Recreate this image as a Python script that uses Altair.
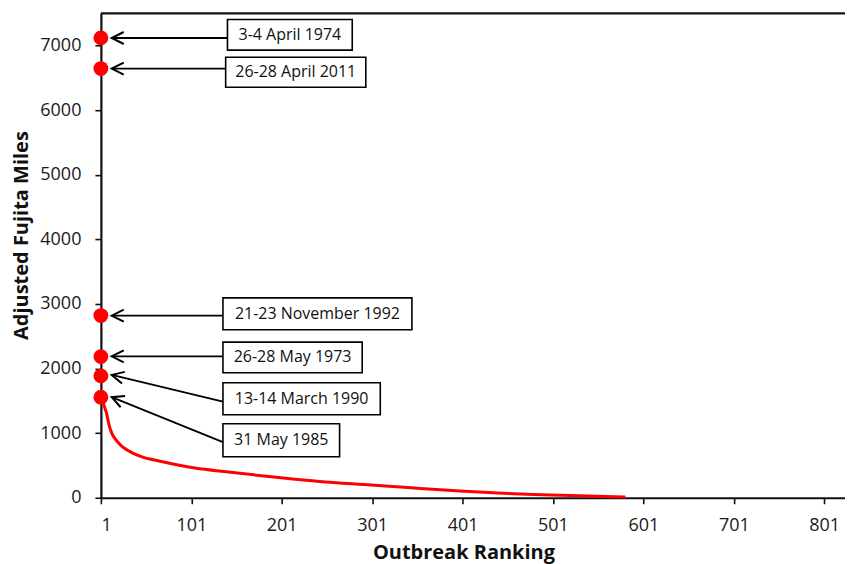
import math
import altair as alt
import pandas as pd

# ---- data ----
curve_rank = [2, 4, 7, 10, 13, 18, 24, 31, 45, 68, 105, 142, 200, 243, 300, 332, 354, 398, 440, 479, 540, 581]
curve_value = [1557, 1450, 1320, 1130, 1000, 890, 800, 731, 640, 561, 459, 397, 309, 252, 197, 165, 145, 105, 74, 51, 28, 12]

event_labels = ["3-4 April 1974", "26-28 April 2011", "21-23 November 1992",
                "26-28 May 1973", "13-14 March 1990", "31 May 1985"]
event_rank = [1, 1, 1, 1, 1, 1]
event_value = [7120, 6645, 2820, 2185, 1887, 1557]

# annotation geometry (data units)
box_x0 = [141, 139, 136, 136, 136, 136]
box_x1 = [279, 294, 345, 290, 310, 265]
box_top = [7405, 6820, 3095, 2410, 1780, 1145]
box_bottom = [6930, 6355, 2600, 1935, 1285, 635]
tail_value = [7118, 6645, 2819, 2190, 1489, 861]
tip_rank = [13, 13, 13, 13, 13, 13]
tip_value = [7118, 6645, 2819, 2190, 1902, 1557]

x_ticks = [1, 101, 201, 301, 401, 501, 601, 701, 801]
y_ticks = [0, 1000, 2000, 3000, 4000, 5000, 6000, 7000]

X_MAX = 824
Y_MAX = 7500
W, H = 745, 485
FONT = "Open Sans"

px_x = W / (X_MAX - 1)
px_y = H / Y_MAX

curve_df = pd.DataFrame({"rank": curve_rank, "value": curve_value})
events_df = pd.DataFrame({"rank": event_rank, "value": event_value, "label": event_labels})

angles = []
for x0, ty, tx, tv in zip(box_x0, tail_value, tip_rank, tip_value):
    dx = (x0 - tx) * px_x
    dy = (tv - ty) * px_y
    angles.append(math.degrees(math.atan2(dy, dx)) % 360)

ann_df = pd.DataFrame({
    "label": event_labels,
    "bx0": box_x0, "bx1": box_x1, "btop": box_top, "bbot": box_bottom,
    "tx": box_x0, "ty": tail_value, "hx": tip_rank, "hy": tip_value,
    "cx": [(a + b) / 2 for a, b in zip(box_x0, box_x1)],
    "cy": [(a + b) / 2 for a, b in zip(box_top, box_bottom)],
    "angle": angles,
})

xscale = alt.Scale(domain=[1, X_MAX], nice=False, zero=False)
yscale = alt.Scale(domain=[0, Y_MAX], nice=False)

x_axis = alt.Axis(values=x_ticks, title="Outbreak Ranking", grid=False, format="d",
                  titleX=363, titleY=61, titleBaseline="alphabetic", titleAlign="center",
                  labelPadding=13)
y_axis = alt.Axis(values=y_ticks, title="Adjusted Fujita Miles", grid=False, format="d",
                  titleX=-79, titleY=222, titleAngle=-90, titleAlign="center",
                  titleBaseline="middle", labelPadding=14)

curve = alt.Chart(curve_df).mark_line(color="#ff0000", strokeWidth=3, interpolate="monotone").encode(
    x=alt.X("rank:Q", scale=xscale, axis=x_axis),
    y=alt.Y("value:Q", scale=yscale, axis=y_axis),
)

dots = alt.Chart(events_df).mark_point(filled=True, color="#ff0000", size=220, opacity=1).encode(
    x="rank:Q", y="value:Q"
)

arrows = alt.Chart(ann_df).mark_rule(color="#000000", strokeWidth=1.8).encode(
    x="tx:Q", y="ty:Q", x2="hx:Q", y2="hy:Q"
)

heads = alt.Chart(ann_df).mark_point(
    shape="M2,-1L0,0L2,1", filled=False, color="#000000", strokeWidth=2, size=144, opacity=1
).encode(x="hx:Q", y="hy:Q", angle=alt.Angle("angle:Q", scale=None))

boxes = alt.Chart(ann_df).mark_rect(fill="white", stroke="#000000", strokeWidth=1.6).encode(
    x="bx0:Q", x2="bx1:Q", y="btop:Q", y2="bbot:Q"
)

texts = alt.Chart(ann_df).mark_text(font=FONT, fontSize=16, color="#111111", align="center",
                                    baseline="middle").encode(
    x="cx:Q", y="cy:Q", text="label:N"
)

top_line = alt.Chart(pd.DataFrame({"a": [1]})).mark_rule(color="#111111", strokeWidth=2.2).encode(
    x=alt.datum(1), x2=alt.datum(X_MAX), y=alt.datum(Y_MAX)
)

chart = alt.layer(curve, dots, arrows, heads, boxes, texts, top_line).properties(
    width=W, height=H,
    autosize=alt.AutoSizeParams(type="none"),
    padding={"left": 93, "top": 5, "right": 0, "bottom": 72},
).configure_view(strokeOpacity=0).configure_axis(
    domainColor="#111111", domainWidth=2.2, tickColor="#111111", tickWidth=1.6, tickSize=6,
    labelFont=FONT, labelFontSize=18, labelColor="#1a1a1a",
    titleFont=FONT, titleFontSize=20, titleFontWeight="bold", titleColor="#111111",
)

chart.save("out.html", embed_options={"renderer": "svg", "actions": False})
